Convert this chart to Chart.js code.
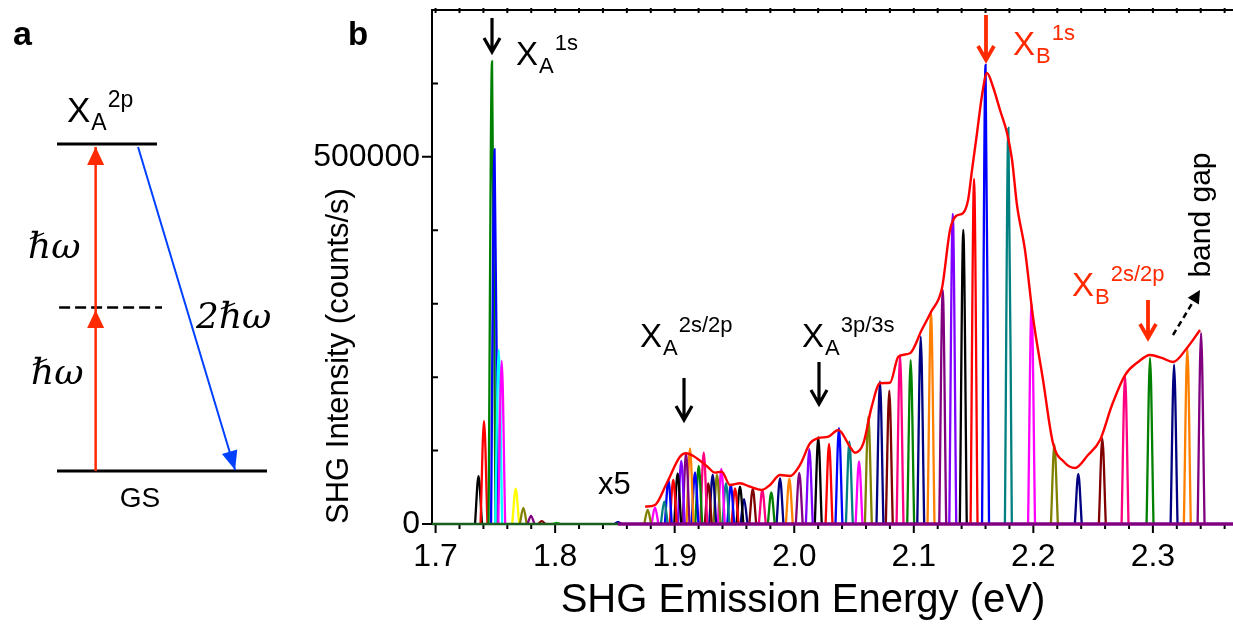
<!DOCTYPE html>
<html>
<head>
<meta charset="utf-8">
<title>SHG emission spectrum</title>
<script src="https://cdn.jsdelivr.net/npm/chart.js@4.4.1/dist/chart.umd.min.js"></script>
<style>
  html, body { margin: 0; padding: 0; background: #fff; }
  #wrap { position: relative; width: 1233px; height: 627px; overflow: hidden; }
  canvas { position: absolute; top: 0; left: 0; }
</style>
</head>
<body>
<div id="wrap">
  <canvas id="spectrumChart" width="1233" height="627"></canvas>
  <canvas id="levelChart" width="300" height="627"></canvas>
</div>
<script>
// X_A 1s region, plotted as measured (counts/s)
const lowPeakEnergy = [1.7359, 1.7405, 1.7472, 1.7493, 1.7528, 1.7553, 1.7670, 1.7734, 1.7798, 1.7888, 1.8013, 1.8526];
const lowPeakCounts = [65000, 140000, 630000, 510000, 237000, 222000, 48000, 22000, 11000, 4000, 1500, 2500];

// higher energy region, plotted x5 (values as drawn)
const x5PeakEnergy = [
    1.8774, 1.8835, 1.8913, 1.8947, 1.8988, 1.9025, 1.9055, 1.9095, 1.9128, 1.9170,
    1.9201, 1.9243, 1.9281, 1.9318, 1.9354, 1.9390, 1.9429, 1.9469, 1.9505, 1.9546,
    1.9580, 1.9653, 1.9733, 1.9808, 1.9881, 1.9959, 2.0042, 2.0126, 2.0201, 2.0291,
    2.0374, 2.0461, 2.0542, 2.0620, 2.0717, 2.0795, 2.0885, 2.0974, 2.1058, 2.1144,
    2.1242, 2.1326, 2.1414, 2.1504, 2.1600, 2.1791, 2.1985, 2.2176, 2.2376, 2.2577,
    2.2767, 2.2976, 2.3177, 2.3288, 2.3403
];
const x5PeakCounts = [
    19100, 22700, 30900, 59900, 59900, 69000, 85800, 96300, 103100, 70400,
    79000, 97600, 55400, 67100, 67100, 74900, 55400, 53100, 48600, 50800,
    34000, 47700, 46300, 43200, 62200, 61300, 69500, 102100, 118100, 109000,
    130700, 112100, 85400, 146100, 194300, 181500, 230600, 223300, 255100, 287400,
    318700, 422200, 400400, 469900, 625100, 539300, 299600, 108000, 68100, 116200,
    202500, 226100, 217000, 239700, 260100
];

// red envelope through the x5 spectra
const envelopeEnergy = [
    1.8752, 1.8835, 1.8933, 1.9044, 1.9095, 1.9156, 1.9268, 1.9337, 1.9393, 1.9463,
    1.9546, 1.9630, 1.9728, 1.9797, 1.9881, 1.9965, 2.0048, 2.0132, 2.0201, 2.0285,
    2.0369, 2.0466, 2.0508, 2.0578, 2.0648, 2.0717, 2.0801, 2.0871, 2.0968, 2.1066,
    2.1144, 2.1236, 2.1303, 2.1353, 2.1412, 2.1454, 2.1487, 2.1529, 2.1571, 2.1612,
    2.1663, 2.1721, 2.1780, 2.1822, 2.1863, 2.1930, 2.1997, 2.2081, 2.2164, 2.2257,
    2.2349, 2.2457, 2.2558, 2.2658, 2.2767, 2.2876, 2.2976, 2.3076, 2.3168, 2.3285,
    2.3394
];
const envelopeCounts = [
    23600, 25900, 55400, 91700, 96300, 92600, 79000, 69900, 71200, 53100,
    55400, 50800, 46300, 53100, 66700, 65400, 80400, 109900, 117100, 118900,
    128000, 105300, 97100, 109900, 159800, 191600, 192400, 227800, 232500, 264200,
    288700, 321400, 400400, 419500, 423500, 441300, 482100, 532500, 584300, 614200,
    595100, 563800, 532500, 495700, 434400, 373200, 281900, 196100, 110300, 84400,
    76300, 94000, 114400, 162100, 202900, 220600, 230200, 226100, 220600, 239700,
    264200
];

// energy levels of panel a, in units of the photon energy
const levelEnergy = [0, 1, 2];

// styles
const SANS = '"Liberation Sans", Arial, Helvetica, sans-serif';
const SERIF = '"DejaVu Serif", "Liberation Serif", serif';
const RED = '#ff2a00';
const C = {
    black: '#000000', red: '#ff0000', blue: '#0000ff', green: '#008000', magenta: '#ff00ff',
    cyan: '#00ffff', yellow: '#ffff00', olive: '#808000', navy: '#000080', purple: '#800080',
    darkred: '#800000', teal: '#008080', violet: '#8000ff', orange: '#ff8000', pink: '#ff0080'
};
const lowPeakColors = [C.black, C.red, C.green, C.blue, C.cyan, C.magenta, C.yellow, C.olive,
    C.purple, C.darkred, '#00c000', '#0000a0'];
const x5PeakColors = [
    C.olive, C.magenta, C.teal, C.blue, C.red, C.black, C.violet, C.purple, C.orange, C.blue,
    C.green, C.pink, C.darkred, C.navy, C.olive, C.magenta, C.teal, C.blue, C.red, C.black,
    C.navy, C.darkred, C.pink, C.green, C.navy, C.orange, C.purple, C.violet, C.black, C.red,
    C.blue, C.teal, C.magenta, C.olive, C.navy, C.darkred, C.pink, C.green, C.navy, C.orange,
    C.purple, C.violet, C.black, C.red, C.blue, C.teal, C.magenta, C.olive, C.navy, C.darkred,
    C.pink, C.green, C.navy, C.orange, C.purple
];
const PEAK_HALF_WIDTH = 0.0029; // eV, half base width of each drawn peak

Chart.defaults.font.family = SANS;
Chart.defaults.color = '#000';

function isTenth(v) {
    return Math.abs(v * 10 - Math.round(v * 10)) < 1e-6;
}

function peakDataset(energy, counts, color) {
    return {
        data: [
            { x: energy - PEAK_HALF_WIDTH, y: 0 },
            { x: energy, y: counts },
            { x: energy + PEAK_HALF_WIDTH, y: 0 }
        ],
        borderColor: color,
        borderWidth: 2.3,
        showLine: true,
        pointRadius: 0,
        cubicInterpolationMode: 'monotone',
        clip: false
    };
}

function lineDataset(points, color, width, extra) {
    return Object.assign({
        data: points,
        borderColor: color,
        borderWidth: width,
        showLine: true,
        pointRadius: 0,
        clip: false
    }, extra || {});
}

function drawExciton(ctx, x, y, sub, sup, color, size) {
    const big = size || 33, small = Math.round(big * 0.66);
    ctx.save();
    ctx.fillStyle = color;
    ctx.textAlign = 'left';
    ctx.textBaseline = 'alphabetic';
    ctx.font = `${big}px ${SANS}`;
    ctx.fillText('X', x, y);
    let cx = x + ctx.measureText('X').width + 1;
    ctx.font = `${small}px ${SANS}`;
    ctx.fillText(sub, cx, y + 8);
    cx += ctx.measureText(sub).width + 1;
    ctx.fillText(sup, cx, y - 15);
    ctx.restore();
}

function drawText(ctx, text, x, y, font, opts) {
    ctx.save();
    ctx.font = font;
    ctx.fillStyle = (opts && opts.color) || '#000';
    ctx.textAlign = (opts && opts.align) || 'left';
    ctx.textBaseline = (opts && opts.baseline) || 'alphabetic';
    ctx.translate(x, y);
    if (opts && opts.rotate) ctx.rotate(opts.rotate);
    ctx.fillText(text, 0, 0);
    ctx.restore();
}

function drawChevronArrow(ctx, x, y0, y1, color, width) {
    ctx.save();
    ctx.strokeStyle = color;
    ctx.lineWidth = width;
    ctx.lineJoin = 'miter';
    ctx.beginPath();
    ctx.moveTo(x, y0);
    ctx.lineTo(x, y1 - 1);
    ctx.moveTo(x - 8, y1 - 14);
    ctx.lineTo(x, y1);
    ctx.lineTo(x + 8, y1 - 14);
    ctx.stroke();
    ctx.restore();
}

function drawHead(ctx, x0, y0, x1, y1, color, len, half) {
    const a = Math.atan2(y1 - y0, x1 - x0);
    ctx.save();
    ctx.translate(x1, y1);
    ctx.rotate(a);
    ctx.beginPath();
    ctx.moveTo(0, 0);
    ctx.lineTo(-len, -half);
    ctx.lineTo(-len, half);
    ctx.closePath();
    ctx.fillStyle = color;
    ctx.fill();
    ctx.restore();
}

// frame, ticks and annotations of panel b
const spectrumDecor = {
    id: 'spectrumDecor',
    beforeDatasetsDraw(chart) {
        const { ctx, chartArea: a, scales: { x, y } } = chart;
        ctx.save();
        ctx.lineWidth = 2;
        ctx.strokeStyle = '#000';
        ctx.lineCap = 'square';
        ctx.beginPath();
        ctx.moveTo(a.right + 5, a.top);
        ctx.lineTo(a.left, a.top);
        ctx.lineTo(a.left, a.bottom);
        ctx.lineTo(a.right + 5, a.bottom);
        ctx.stroke();
        ctx.lineCap = 'butt';
        ctx.beginPath();
        x.ticks.forEach(t => {
            const px = x.getPixelForValue(t.value);
            ctx.moveTo(px, a.bottom);
            ctx.lineTo(px, a.bottom + (isTenth(t.value) ? 9 : 5));
            ctx.moveTo(px, a.top - 2);
            ctx.lineTo(px, a.top + 3);
        });
        y.ticks.forEach(t => {
            const py = y.getPixelForValue(t.value);
            if (t.value % 500000 === 0) {
                ctx.moveTo(a.left - 10, py);
                ctx.lineTo(a.left, py);
            } else {
                ctx.moveTo(a.left, py);
                ctx.lineTo(a.left + 6, py);
            }
        });
        ctx.stroke();
        ctx.restore();
    },
    afterDatasetsDraw(chart) {
        const { ctx, chartArea: a, scales: { x, y } } = chart;
        const px = e => x.getPixelForValue(e);
        const py = c => y.getPixelForValue(c);

        drawChevronArrow(ctx, px(1.7472), py(689100), py(642800), '#000', 3.2);
        drawExciton(ctx, px(1.7673), py(625100), 'A', '1s', '#000');

        drawChevronArrow(ctx, px(2.1604), py(693200), py(631900), RED, 3.8);
        drawExciton(ctx, px(2.1830), py(638700), 'B', '1s', RED);

        drawExciton(ctx, px(1.8710), py(241100), 'A', '2s/2p', '#000');
        drawChevronArrow(ctx, px(1.9078), py(198800), py(141600), '#000', 3.2);

        drawExciton(ctx, px(2.0065), py(241100), 'A', '3p/3s', '#000');
        drawChevronArrow(ctx, px(2.0207), py(220600), py(163400), '#000', 3.2);

        drawExciton(ctx, px(2.2323), py(310500), 'B', '2s/2p', RED);
        drawChevronArrow(ctx, px(2.2959), py(305100), py(253300), RED, 3.8);

        // band gap pointer
        const x0 = px(2.3168), y0 = py(257400), x1 = px(2.3394), y1 = py(318700);
        ctx.save();
        ctx.strokeStyle = '#000';
        ctx.lineWidth = 2.5;
        ctx.setLineDash([6, 4]);
        ctx.beginPath();
        ctx.moveTo(x0, y0);
        ctx.lineTo(x1 - 4, y1 + 7);
        ctx.stroke();
        ctx.restore();
        drawHead(ctx, x0, y0, x1, y1, '#000', 13, 6.5);
        drawText(ctx, 'band gap', px(2.3411), py(420800), `30px ${SANS}`,
            { align: 'center', baseline: 'middle', rotate: -Math.PI / 2 });

        drawText(ctx, 'x5', px(1.8359), py(40900), `31px ${SANS}`);
        drawText(ctx, 'SHG Emission Energy (eV)', px(2.0073), a.bottom + 77, `40px ${SANS}`,
            { align: 'center', baseline: 'middle' });
        drawText(ctx, 'b', a.left - 84, 45, `bold 33px ${SANS}`);
    }
};

// lower index is drawn on top: envelope and baselines first, then the peaks
const spectrumDatasets = [
    lineDataset(envelopeEnergy.map((e, i) => ({ x: e, y: envelopeCounts[i] })), '#ff0000', 2.4,
        { cubicInterpolationMode: 'monotone' }),
    lineDataset([{ x: 1.8526, y: 0 }, { x: 2.367, y: 0 }], C.purple, 3.5),
    lineDataset([{ x: 1.697, y: 0 }, { x: 1.8526, y: 0 }], '#1b5e20', 2.5)
];
x5PeakEnergy.forEach((e, i) => spectrumDatasets.push(peakDataset(e, x5PeakCounts[i], x5PeakColors[i])));
for (let i = lowPeakEnergy.length - 1; i >= 0; i--) {
    spectrumDatasets.push(peakDataset(lowPeakEnergy[i], lowPeakCounts[i], lowPeakColors[i]));
}

new Chart(document.getElementById('spectrumChart'), {
    type: 'scatter',
    data: { datasets: spectrumDatasets },
    options: {
        responsive: false,
        animation: false,
        devicePixelRatio: 1,
        events: [],
        layout: { padding: { left: 300, top: 10, right: 0, bottom: 0 } },
        plugins: { legend: { display: false }, tooltip: { enabled: false } },
        scales: {
            x: {
                type: 'linear',
                min: 1.697,
                max: 2.367,
                afterFit: s => { s.height = 103; s.paddingLeft = 0; s.paddingRight = 0; },
                grid: { display: false, drawTicks: false },
                border: { display: false },
                ticks: {
                    stepSize: 0.02,
                    includeBounds: false,
                    autoSkip: false,
                    maxRotation: 0,
                    padding: 14,
                    font: { size: 32 },
                    callback: v => isTenth(v) ? v.toFixed(1) : ''
                }
            },
            y: {
                min: 0,
                max: 700000,
                afterFit: s => { s.width = 132; s.paddingTop = 0; s.paddingBottom = 0; },
                grid: { display: false, drawTicks: false },
                border: { display: false },
                ticks: {
                    stepSize: 100000,
                    autoSkip: false,
                    padding: 12,
                    font: { size: 32 },
                    callback: v => v % 500000 === 0 ? String(v) : ''
                },
                title: {
                    display: true,
                    text: 'SHG Intensity (counts/s)',
                    align: 'start',
                    font: { size: 31 },
                    padding: { top: 21, bottom: 0 }
                }
            }
        }
    },
    plugins: [spectrumDecor]
});

// panel a: two-photon excitation scheme
const levelDecor = {
    id: 'levelDecor',
    afterDatasetsDraw(chart) {
        const ctx = chart.ctx;
        chart.data.datasets.forEach((ds, i) => {
            if (!ds.arrowHead) return;
            const pts = chart.getDatasetMeta(i).data;
            const tip = pts[pts.length - 1], tail = pts[pts.length - 2];
            drawHead(ctx, tail.x, tail.y, tip.x, tip.y, ds.borderColor, ds.arrowHead[0], ds.arrowHead[1]);
        });
        drawText(ctx, 'a', 13, 45, `bold 34px ${SANS}`);
        drawExciton(ctx, 67, 122, 'A', '2p', '#000', 35);
        drawText(ctx, 'GS', 140, 507, `28px ${SANS}`, { align: 'center' });
        drawText(ctx, '\u210F\u03C9', 28, 258, `italic 36px ${SERIF}`);
        drawText(ctx, '\u210F\u03C9', 31, 384, `italic 36px ${SERIF}`);
        drawText(ctx, '2\u210F\u03C9', 196, 328, `italic 36px ${SERIF}`);
    }
};

const gs = levelEnergy[0], virt = levelEnergy[1], x2p = levelEnergy[2];
new Chart(document.getElementById('levelChart'), {
    type: 'scatter',
    data: {
        datasets: [
            lineDataset([{ x: 0.184, y: gs }, { x: 0.184, y: virt - 0.015 }], RED, 2.5, { arrowHead: [18, 8.5] }),
            lineDataset([{ x: 0.184, y: virt - 0.015 }, { x: 0.184, y: x2p - 0.018 }], RED, 2.5, { arrowHead: [18, 8.5] }),
            lineDataset([{ x: 0.386, y: x2p - 0.018 }, { x: 0.848, y: gs + 0.006 }], '#0040ff', 2, { arrowHead: [19, 8] }),
            lineDataset([{ x: 0, y: gs }, { x: 1, y: gs }], '#000', 3),
            lineDataset([{ x: 0.01, y: virt }, { x: 0.5, y: virt }], '#000', 2.5, { borderDash: [11, 5] }),
            lineDataset([{ x: 0, y: x2p }, { x: 0.476, y: x2p }], '#000', 3)
        ]
    },
    options: {
        responsive: false,
        animation: false,
        devicePixelRatio: 1,
        events: [],
        layout: { padding: { left: 57, right: 33, top: 144, bottom: 156 } },
        plugins: { legend: { display: false }, tooltip: { enabled: false } },
        scales: {
            x: { type: 'linear', display: false, min: 0, max: 1 },
            y: { display: false, min: 0, max: 2 }
        }
    },
    plugins: [levelDecor]
});
</script>
</body>
</html>
